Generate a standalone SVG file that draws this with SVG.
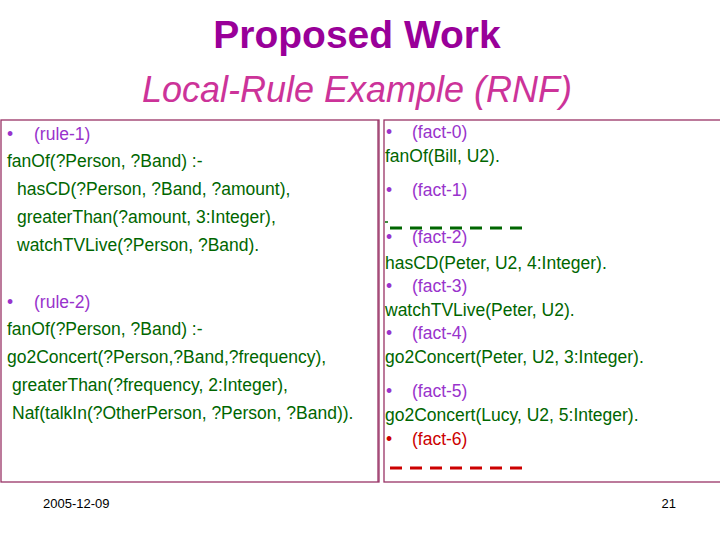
<svg xmlns="http://www.w3.org/2000/svg" width="720" height="540" viewBox="0 0 720 540">
<style>
text{font-family:"Liberation Sans",Arial,sans-serif}
.g{fill:#006600;font-size:17.5px}
.p{fill:#9933CC;font-size:17.5px}
.r{fill:#CC0000;font-size:17.5px}
.box{fill:none;stroke:#993366;stroke-width:1.3}
</style>
<rect width="720" height="540" fill="#fff"/>
<text x="357" y="48" text-anchor="middle" font-size="39" font-weight="bold" fill="#990099">Proposed Work</text>
<text x="357" y="102" text-anchor="middle" font-size="36" font-style="italic" fill="#CC3399">Local-Rule Example (RNF)</text>
<rect class="box" x="1" y="120" width="378" height="362"/>
<rect class="box" x="384" y="120" width="340" height="362"/>
<line class="box" x1="378" y1="120" x2="378" y2="482"/>
<g id="rules">
<text class="p" x="7" y="140">•</text><text class="p" x="34" y="140">(rule-1)</text>
<text class="g" x="7" y="167">fanOf(?Person, ?Band) :-</text>
<text class="g" x="17" y="195">hasCD(?Person, ?Band, ?amount),</text>
<text class="g" x="17" y="223">greaterThan(?amount, 3:Integer),</text>
<text class="g" x="17" y="251">watchTVLive(?Person, ?Band).</text>
<text class="p" x="7" y="308">•</text><text class="p" x="34" y="308">(rule-2)</text>
<text class="g" x="7" y="335">fanOf(?Person, ?Band) :-</text>
<text class="g" x="7" y="363">go2Concert(?Person,?Band,?frequency),</text>
<text class="g" x="12" y="391">greaterThan(?frequency, 2:Integer),</text>
<text class="g" x="12" y="419">Naf(talkIn(?OtherPerson, ?Person, ?Band)).</text>
</g>
<g id="facts">
<text class="p" x="386" y="138">•</text><text class="p" x="412" y="138">(fact-0)</text>
<text class="g" x="385" y="162">fanOf(Bill, U2).</text>
<text class="p" x="386" y="196">•</text><text class="p" x="412" y="196">(fact-1)</text>
<text class="p" x="386" y="243">•</text><text class="p" x="412" y="243">(fact-2)</text>
<text class="g" x="385" y="269">hasCD(Peter, U2, 4:Integer).</text>
<text class="p" x="386" y="292">•</text><text class="p" x="412" y="292">(fact-3)</text>
<text class="g" x="385" y="316">watchTVLive(Peter, U2).</text>
<text class="p" x="386" y="339">•</text><text class="p" x="412" y="339">(fact-4)</text>
<text class="g" x="385" y="363">go2Concert(Peter, U2, 3:Integer).</text>
<text class="p" x="386" y="397">•</text><text class="p" x="412" y="397">(fact-5)</text>
<text class="g" x="385" y="421">go2Concert(Lucy, U2, 5:Integer).</text>
<text class="r" x="386" y="445">•</text><text class="r" x="412" y="445">(fact-6)</text>
</g>
<line x1="385" y1="222" x2="388" y2="222" stroke="#006600" stroke-width="1.5"/>
<line x1="390" y1="228" x2="528" y2="228" stroke="#006600" stroke-width="3" stroke-dasharray="12,8"/>
<line x1="390" y1="468" x2="528" y2="468" stroke="#CC0000" stroke-width="3" stroke-dasharray="12,8"/>
<text x="43" y="508" font-size="13">2005-12-09</text>
<text x="676" y="508" font-size="13" text-anchor="end">21</text>
</svg>
